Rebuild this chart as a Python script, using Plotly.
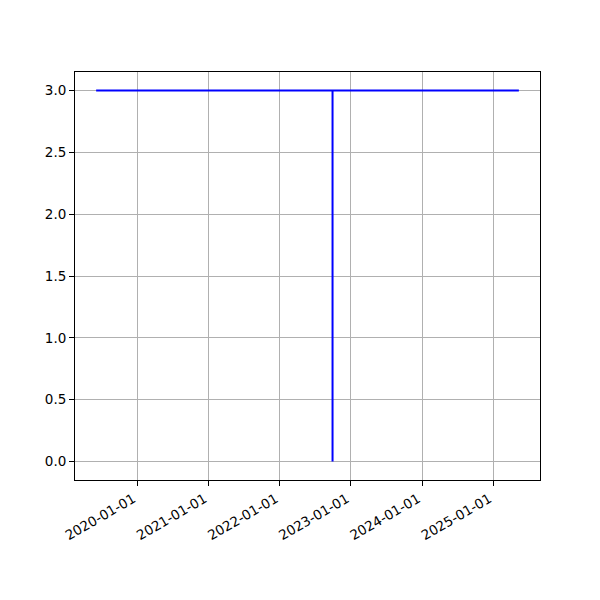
import pandas as pd
import plotly.graph_objects as go

# Data
dates = ["2019-06-04", "2022-09-29", "2022-09-29", "2022-09-29", "2025-05-12"]
values = [3, 3, 0, 3, 3]
y_ticks = [0.0, 0.5, 1.0, 1.5, 2.0, 2.5, 3.0]

ts = pd.to_datetime(dates)
tmin, tmax = ts.min(), ts.max()
span = tmax - tmin
xr = [tmin - span * 0.05, tmax + span * 0.05]
ymin, ymax = min(values), max(values)
yr = [ymin - (ymax - ymin) * 0.05, ymax + (ymax - ymin) * 0.05]

fig = go.Figure()
fig.add_trace(go.Scatter(x=ts, y=values, mode="lines",
                         line=dict(color="blue", width=2), showlegend=False))

axis_common = dict(
    showline=True, linecolor="black", linewidth=1, mirror=True,
    ticks="outside", ticklen=5, tickwidth=1, tickcolor="black",
    showgrid=True, gridcolor="#b0b0b0", gridwidth=1, zeroline=False,
    automargin=False,
    tickfont=dict(family="DejaVu Sans", size=13.5, color="black"),
)

fig.update_layout(
    width=600, height=600,
    margin=dict(l=67, r=68, t=64, b=128, pad=0),
    plot_bgcolor="white", paper_bgcolor="white",
    xaxis=dict(range=xr, type="date", tick0="2020-01-01", dtick="M12",
               tickformat="%Y-%m-%d", tickangle=-30, ticklabelshift=-4,
               **axis_common),
    yaxis=dict(range=yr, tickvals=y_ticks, ticktext=[f"{v:.1f}" for v in y_ticks],
               **axis_common),
)

fig.write_html("out.html")
